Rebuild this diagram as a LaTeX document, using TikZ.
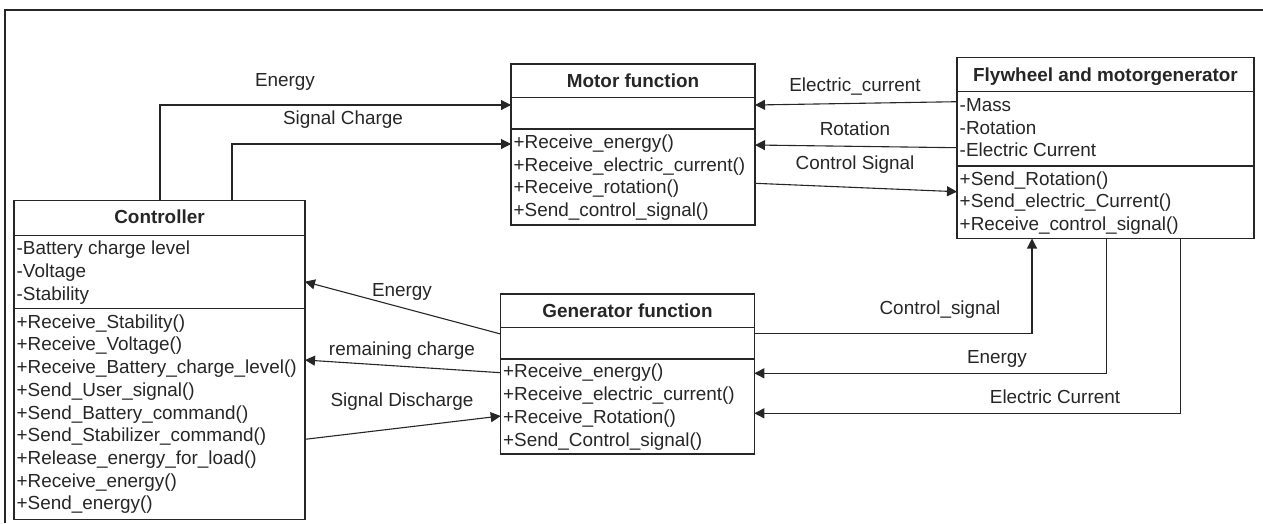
\documentclass[tikz,border=0pt]{standalone}
\usepackage{fontspec}
\setmainfont{Liberation Sans}
\usetikzlibrary{arrows.meta,calc}
\definecolor{ln}{HTML}{262626}
\definecolor{txt}{HTML}{262626}
\begin{document}
\begin{tikzpicture}[x=1pt,y=-1pt,
  box/.style={draw=ln, line width=1.2pt, rectangle, inner sep=0pt, outer sep=0pt, anchor=north west},
  divl/.style={draw=ln, line width=1.2pt},
  row/.style={anchor=base west, inner sep=0pt, text=txt, font=\fontsize{18.9}{22}\selectfont},
  ttl/.style={anchor=base, inner sep=0pt, text=txt, font=\fontsize{18.9}{22}\selectfont\bfseries},
  lbl/.style={anchor=base, inner sep=0pt, text=txt, font=\fontsize{18.9}{22}\selectfont},
  arr/.style={draw=ln, line width=1.1pt, -{Triangle[length=10pt,width=10pt]}}]
\useasboundingbox (0,0) rectangle (1263,523);
\draw[ln, line width=2pt] (5,523) -- (5,10) -- (1263,10);

% ---------- Controller ----------
\node[box, minimum width=291pt, minimum height=318.6pt] (ctrl) at (14,200.7) {};
\draw[divl] ($(ctrl.north west)+(0,35)$) -- ($(ctrl.north east)+(0,35)$);
\draw[divl] ($(ctrl.north west)+(0,107.6)$) -- ($(ctrl.north east)+(0,107.6)$);
\node[ttl] (ctrlT) at (159.5,223.5) {Controller};
\node[row] (ca1) at (16.5,254.8) {-Battery charge level};
\node[row] (ca2) at (16.5,277.5) {-Voltage};
\node[row] (ca3) at (16.5,300.2) {-Stability};
\node[row] (cm1) at (16.5,328.2) {+Receive\_Stability()};
\node[row] (cm2) at (16.5,350.9) {+Receive\_Voltage()};
\node[row] (cm3) at (16.5,373.6) {+Receive\_Battery\_charge\_level()};
\node[row] (cm4) at (16.5,396.3) {+Send\_User\_signal()};
\node[row] (cm5) at (16.5,419.0) {+Send\_Battery\_command()};
\node[row] (cm6) at (16.5,441.7) {+Send\_Stabilizer\_command()};
\node[row] (cm7) at (16.5,464.4) {+Release\_energy\_for\_load()};
\node[row] (cm8) at (16.5,487.1) {+Receive\_energy()};
\node[row] (cm9) at (16.5,509.8) {+Send\_energy()};

% ---------- Motor function ----------
\node[box, minimum width=244pt, minimum height=161pt] (motor) at (511,64) {};
\draw[divl] ($(motor.north west)+(0,33.7)$) -- ($(motor.north east)+(0,33.7)$);
\draw[divl] ($(motor.north west)+(0,65)$) -- ($(motor.north east)+(0,65)$);
\node[ttl] (motorT) at (633,87.5) {Motor function};
\node[row] (mm1) at (513.5,148.2) {+Receive\_energy()};
\node[row] (mm2) at (513.5,171.0) {+Receive\_electric\_current()};
\node[row] (mm3) at (513.5,193.8) {+Receive\_rotation()};
\node[row] (mm4) at (513.5,216.6) {+Send\_control\_signal()};

% ---------- Flywheel ----------
\node[box, minimum width=297pt, minimum height=180.8pt] (fly) at (957,57.7) {};
\draw[divl] ($(fly.north west)+(0,34)$) -- ($(fly.north east)+(0,34)$);
\draw[divl] ($(fly.north west)+(0,108.3)$) -- ($(fly.north east)+(0,108.3)$);
\node[ttl] (flyT) at (1105.5,81.8) {Flywheel and motorgenerator};
\node[row] (fa1) at (959.5,111.5) {-Mass};
\node[row] (fa2) at (959.5,134.2) {-Rotation};
\node[row] (fa3) at (959.5,156.9) {-Electric Current};
\node[row] (fm1) at (959.5,185.2) {+Send\_Rotation()};
\node[row] (fm2) at (959.5,207.9) {+Send\_electric\_Current()};
\node[row] (fm3) at (959.5,230.2) {+Receive\_control\_signal()};

% ---------- Generator function ----------
\node[box, minimum width=253.6pt, minimum height=160pt] (gen) at (500.7,294) {};
\draw[divl] ($(gen.north west)+(0,33.3)$) -- ($(gen.north east)+(0,33.3)$);
\draw[divl] ($(gen.north west)+(0,65)$) -- ($(gen.north east)+(0,65)$);
\node[ttl] (genT) at (627.5,317.5) {Generator function};
\node[row] (gm1) at (503,377.2) {+Receive\_energy()};
\node[row] (gm2) at (503,400.2) {+Receive\_electric\_current()};
\node[row] (gm3) at (503,423.2) {+Receive\_Rotation()};
\node[row] (gm4) at (503,446.2) {+Send\_Control\_signal()};

% ---------- Connectors ----------
\draw[arr] ($(ctrl.north west)+(146,0)$) |- ($(motor.north west)+(0,41)$);
\draw[arr] ($(ctrl.north west)+(218,0)$) |- ($(motor.north west)+(0,80)$);
\draw[arr] ($(fly.north west)+(0,44)$) -- ($(motor.north east)+(0,41)$);
\draw[arr] ($(fly.north west)+(0,90)$) -- ($(motor.north east)+(0,81)$);
\draw[arr] ($(motor.north east)+(0,119.3)$) -- ($(fly.north west)+(0,134)$);
\draw[arr] ($(gen.north west)+(0,40)$) -- ($(ctrl.north east)+(0,81)$);
\draw[arr] ($(gen.north west)+(0,78.7)$) -- ($(ctrl.north east)+(0,159.3)$);
\draw[arr] ($(ctrl.north east)+(0,238.6)$) -- ($(gen.north west)+(0,122)$);
\draw[arr] ($(gen.north east)+(0,39.7)$) -| ($(fly.south west)+(75,0)$);
\draw[arr] ($(fly.south west)+(149.7,0)$) |- ($(gen.north east)+(0,79.3)$);
\draw[arr] ($(fly.south west)+(223.7,0)$) |- ($(gen.north east)+(0,119.3)$);

% ---------- Labels ----------
\node[lbl] (l1) at (285,86.5) {Energy};
\node[lbl] (l2) at (343,124.5) {Signal Charge};
\node[lbl] (l3) at (855,91.5) {Electric\_current};
\node[lbl] (l4) at (855,135.5) {Rotation};
\node[lbl] (l5) at (855,169.5) {Control Signal};
\node[lbl] (l6) at (402,296.5) {Energy};
\node[lbl] (l7) at (402,355) {remaining charge};
\node[lbl] (l8) at (402,406.5) {Signal Discharge};
\node[lbl] (l9) at (940,314) {Control\_signal};
\node[lbl] (l10) at (997,363) {Energy};
\node[lbl] (l11) at (1055,403) {Electric Current};
\end{tikzpicture}
\end{document}
